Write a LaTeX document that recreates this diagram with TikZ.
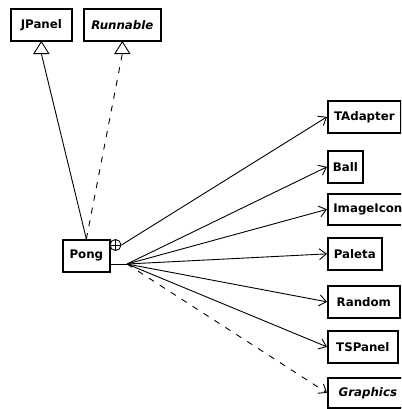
\documentclass[tikz,border=0pt]{standalone}
\usepackage{fontspec}
\setmainfont{DejaVu Sans}
\usetikzlibrary{arrows.meta}
\tikzset{
  cls/.style={draw, line width=1.7pt, anchor=north west, inner sep=0pt,
    minimum height=32pt, fill=white,
    font=\fontsize{11.8}{13}\selectfont\bfseries},
  abstractcls/.style={cls, font=\fontsize{11.8}{13}\selectfont\bfseries\itshape},
  conn/.style={line width=0.9pt},
  dep/.style={conn, -{Straight Barb[length=7pt,width=11pt,line width=0.9pt]}},
  weakdep/.style={dep, dash pattern=on 6pt off 7pt},
  realize/.style={conn, dash pattern=on 6pt off 7pt},
  gentip/.style={line width=0.9pt, fill=white},
}
\begin{document}
\begin{tikzpicture}[x=1pt, y=-1pt]
  \clip (0,0) rectangle (401,409);
  \fill[white] (0,0) rectangle (401,409);

  % supertypes
  \node[cls, minimum width=61pt] (JPanel) at (10,8) {JPanel};
  \node[abstractcls, minimum width=77pt] (Runnable) at (83,8) {Runnable};

  % main class
  \node[cls, minimum width=47pt] (Pong) at (62,239) {Pong};

  % used classes
  \node[cls, minimum width=73pt] (TAdapter) at (327,100) {TAdapter};
  \node[cls, minimum width=35pt] (Ball) at (327,150) {Ball};
  \node[cls, minimum width=80pt, minimum height=31pt] (ImageIcon) at (327,193) {ImageIcon};
  \node[cls, minimum width=54pt] (Paleta) at (327,237) {Paleta};
  \node[cls, minimum width=72pt] (Random) at (327,285) {Random};
  \node[cls, minimum width=70pt] (TSPanel) at (327,330) {TSPanel};

  % inheritance and interface realization
  \coordinate (jpbase) at ([yshift=-12pt]JPanel.south);
  \coordinate (rnbase) at ([yshift=-12pt]Runnable.south);
  \draw[conn] (Pong.north) -- (jpbase);
  \draw[realize] (Pong.north) -- (rnbase);
  \draw[gentip] (JPanel.south) -- ++(-7.5,12) -- ++(15,0) -- cycle;
  \draw[gentip] (Runnable.south) -- ++(-7.5,12) -- ++(15,0) -- cycle;

  % nesting symbol for the inner class
  \node[draw, circle, conn, minimum size=11pt, inner sep=0pt, fill=white] (nest) at (115.5,245) {};
  \draw[conn] (nest.north) -- (nest.south) (nest.west) -- (nest.east);
  \draw[dep] (nest.east) -- (TAdapter.west);

  % dependencies
  \coordinate (fan) at (127,264);
  \draw[conn] (Pong.east |- fan) -- (fan);
  \draw[dep] (fan) -- (Ball.west);
  \draw[dep] (fan) -- (ImageIcon.west);
  \draw[dep] (fan) -- (Paleta.west);
  \draw[dep] (fan) -- (Random.west);
  \draw[dep] (fan) -- (TSPanel.west);

  % abstract class, drawn last so the box edge stays on top
  \node[abstractcls, minimum width=80pt, minimum height=30pt] (Graphics) at (327,377) {Graphics};
  \draw[weakdep] (fan) -- (Graphics.west);
\end{tikzpicture}
\end{document}
